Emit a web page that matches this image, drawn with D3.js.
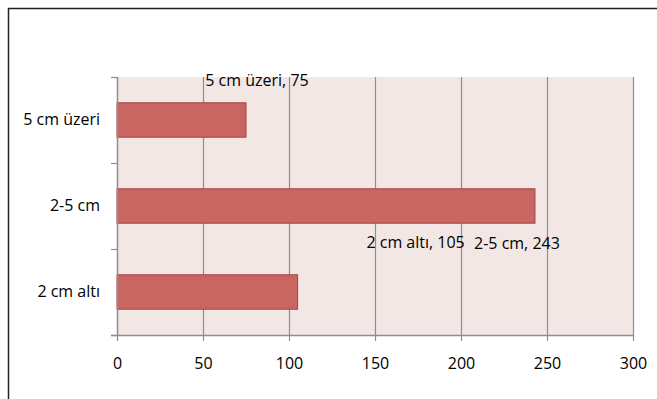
<!DOCTYPE html>
<html><head><meta charset="utf-8">
<script src="https://cdn.jsdelivr.net/npm/d3@7/dist/d3.min.js"></script>
<style>
html,body{margin:0;padding:0;background:#fff;}
svg text{font-family:"Open Sans","DejaVu Sans Condensed",sans-serif;fill:#000;}
</style></head>
<body><svg id="c" width="657" height="399"></svg>
<script>
const categories = ["5 cm üzeri", "2-5 cm", "2 cm altı"];
const values = [75, 243, 105];
const dataLabels = ["5 cm üzeri, 75", "2-5 cm, 243", "2 cm altı, 105"];
const xTicks = [0, 50, 100, 150, 200, 250, 300];

const svg = d3.select("#c");
const m = {l:117, r:633, t:77, b:335};

// frame (top and left visible)
svg.append("line").attr("x1",8).attr("x2",657).attr("y1",8.5).attr("y2",8.5).attr("stroke","#222").attr("stroke-width",1.5);
svg.append("line").attr("x1",8.5).attr("x2",8.5).attr("y1",8).attr("y2",399).attr("stroke","#222").attr("stroke-width",1.5);

const x = d3.scaleLinear().domain([0,300]).range([m.l, m.r]);
const y = d3.scaleBand().domain(categories).range([m.t, m.b]).paddingInner(0.6).paddingOuter(0.3);

svg.append("rect").attr("x",m.l).attr("y",m.t).attr("width",m.r-m.l).attr("height",m.b-m.t).attr("fill","#f2e7e5");

// gridlines
svg.append("g").selectAll("line").data(xTicks.slice(1)).join("line")
  .attr("x1",d=>x(d)+0.5).attr("x2",d=>x(d)+0.5).attr("y1",m.t).attr("y2",m.b)
  .attr("stroke","#8e8e8e").attr("stroke-width",1.2);

// bars
svg.append("g").selectAll("rect").data(categories).join("rect")
  .attr("x",x(0)).attr("y",d=>y(d)).attr("height",y.bandwidth())
  .attr("width",(d,i)=>x(values[i])-x(0))
  .attr("fill","#c96662").attr("stroke","#a8413f").attr("stroke-width",1);

// x axis
const xa = svg.append("g").attr("transform",`translate(0,${m.b})`)
  .call(d3.axisBottom(x).tickValues(xTicks).tickSize(6).tickPadding(17));
xa.select(".domain").attr("stroke","#8e8e8e").attr("stroke-width",1.5).attr("d",`M${m.l-6},0.5H${m.r+0.5}`);
xa.selectAll(".tick line").attr("stroke","#8e8e8e").attr("stroke-width",1.2);
xa.selectAll(".tick text").attr("font-size",16).attr("fill","#000");

// y axis: ticks at category boundaries
const bounds = [m.t, m.t+(m.b-m.t)/3, m.t+2*(m.b-m.t)/3, m.b];
svg.append("line").attr("x1",m.l+0.5).attr("x2",m.l+0.5).attr("y1",m.t).attr("y2",m.b).attr("stroke","#8e8e8e").attr("stroke-width",1.5);
svg.append("g").selectAll("line").data(bounds).join("line")
  .attr("x1",m.l-6).attr("x2",m.l).attr("y1",d=>Math.round(d)+0.5).attr("y2",d=>Math.round(d)+0.5)
  .attr("stroke","#8e8e8e").attr("stroke-width",1.2);
svg.append("g").selectAll("text").data(categories).join("text")
  .attr("x",m.l-17).attr("y",d=>y(d)+y.bandwidth()/2+1)
  .attr("text-anchor","end").attr("dominant-baseline","middle").attr("font-size",16)
  .text(d=>d);

// data labels (Excel-style placement: offsets from each bar's end/centre)
const labelOffsets = [{dx:11, dy:-38}, {dx:-18, dy:39}, {dx:118, dy:-48}];
svg.append("g").selectAll("text").data(categories).join("text")
  .attr("x",(d,i)=>x(values[i])+labelOffsets[i].dx)
  .attr("y",(d,i)=>y(d)+y.bandwidth()/2 + labelOffsets[i].dy)
  .attr("text-anchor","middle").attr("dominant-baseline","middle").attr("font-size",16)
  .text((d,i)=>dataLabels[i]);
</script></body></html>
